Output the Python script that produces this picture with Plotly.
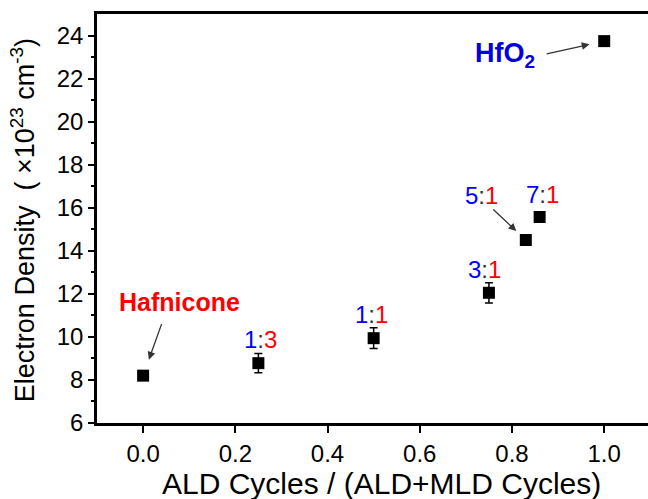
import plotly.graph_objects as go

# ALD fraction of each film and its measured electron density (x10^23 cm^-3)
ald_fraction = [0.0, 0.25, 0.5, 0.75, 0.83, 0.86, 1.0]
electron_density = [8.2, 8.78, 9.94, 12.05, 14.5, 15.57, 23.74]
density_error = [0.0, 0.45, 0.48, 0.47, 0.0, 0.0, 0.0]

# ALD:MLD cycle ratios labelled above points 1, 2, 3 and 5
ratio_ald = ["1", "1", "3", "7"]
ratio_mld = ["3", "1", "1", "1"]
ratio_point = [1, 2, 3, 5]

FONT = "Arial, 'Liberation Sans', sans-serif"
BLUE = "#0000ff"
RED = "#ff0000"


def ratio_text(a, m):
    return (f"<span style='color:{BLUE}'>{a}</span>"
            f"<span style='color:#333333'>:</span>"
            f"<span style='color:{RED}'>{m}</span>")


fig = go.Figure()
fig.add_trace(go.Scatter(
    x=ald_fraction, y=electron_density, mode="markers",
    marker=dict(symbol="square", size=12, color="black", line=dict(width=0)),
    error_y=dict(type="data", array=density_error, visible=True,
                 color="black", thickness=1.5, width=4),
    showlegend=False, cliponaxis=False,
))

ann = []
# ratio labels (ALD part blue, MLD part red)
shifts = {1: (2, 24), 2: (-2, 24), 3: (-4, 23), 5: (3, 22)}
for a, m, i in zip(ratio_ald, ratio_mld, ratio_point):
    dx, dy = shifts[i]
    ann.append(dict(
        x=ald_fraction[i], y=electron_density[i], xref="x", yref="y",
        text=ratio_text(a, m), showarrow=False, xshift=dx, yshift=dy,
        font=dict(family=FONT, size=24), xanchor="center", yanchor="middle"))

# 5:1 label with arrow to its point
ann.append(dict(
    x=ald_fraction[4], y=electron_density[4], xref="x", yref="y",
    text=ratio_text("5", "1"), showarrow=False, xshift=-44, yshift=45,
    font=dict(family=FONT, size=24), xanchor="center", yanchor="middle"))
ann.append(dict(
    x=ald_fraction[4], y=electron_density[4], xref="x", yref="y",
    text="", showarrow=True, ax=-34, ay=-32, standoff=13,
    arrowhead=2, arrowsize=1.2, arrowwidth=1.3, arrowcolor="#333333"))

# Hafnicone label and arrow
ann.append(dict(
    x=ald_fraction[0], y=electron_density[0], xref="x", yref="y",
    text="<b>Hafnicone</b>", showarrow=False, xshift=36, yshift=74,
    font=dict(family=FONT, size=25, color=RED), xanchor="center", yanchor="middle"))
ann.append(dict(
    x=ald_fraction[0], y=electron_density[0], xref="x", yref="y",
    text="", showarrow=True, ax=19, ay=-53, standoff=17,
    arrowhead=2, arrowsize=1.2, arrowwidth=1.3, arrowcolor="#333333"))

# HfO2 label and arrow
ann.append(dict(
    x=ald_fraction[6], y=electron_density[6], xref="x", yref="y",
    text="<b>HfO<sub>2</sub></b>", showarrow=False, xshift=-99, yshift=-14,
    font=dict(family=FONT, size=27, color="#0000dd"), xanchor="center", yanchor="middle"))
ann.append(dict(
    x=ald_fraction[6], y=electron_density[6], xref="x", yref="y",
    text="", showarrow=True, ax=-59, ay=13, standoff=15,
    arrowhead=2, arrowsize=1.2, arrowwidth=1.3, arrowcolor="#333333"))

# axis titles
ann.append(dict(
    x=0.516, y=-0.148, xref="paper", yref="paper",
    text="ALD Cycles / (ALD+MLD Cycles)", showarrow=False,
    font=dict(family=FONT, size=30, color="black"), xanchor="center", yanchor="middle"))
ann.append(dict(
    x=-0.135, y=0.495, xref="paper", yref="paper", textangle=-90,
    text="Electron Density  ( \u00d710<sup>23</sup> cm<sup>-3</sup>)", showarrow=False,
    font=dict(family=FONT, size=27, color="black"), xanchor="center", yanchor="middle"))

fig.update_layout(
    width=648, height=499,
    margin=dict(l=97, r=0, t=14, b=76, autoexpand=False),
    plot_bgcolor="white", paper_bgcolor="white",
    annotations=ann,
    font=dict(family=FONT, color="black"),
)
fig.update_xaxes(
    range=[-0.1, 1.095], tickvals=[0.0, 0.2, 0.4, 0.6, 0.8, 1.0],
    ticktext=["0.0", "0.2", "0.4", "0.6", "0.8", "1.0"],
    showline=True, linecolor="black", linewidth=2.5, mirror=True,
    ticks="outside", ticklen=7, tickwidth=2, tickcolor="black",
    tickfont=dict(family=FONT, size=24, color="black"),
    showgrid=False, zeroline=False,
)
fig.update_yaxes(
    range=[6, 25], tickvals=list(range(6, 25, 2)),
    showline=True, linecolor="black", linewidth=2.5, mirror=False,
    ticks="outside", ticklen=6, tickwidth=2, tickcolor="black",
    tickfont=dict(family=FONT, size=24, color="black"),
    minor=dict(tickvals=list(range(7, 25, 2)), ticks="outside", ticklen=3,
               tickwidth=2, tickcolor="black"),
    showgrid=False, zeroline=False,
)

fig.write_html("out.html")
